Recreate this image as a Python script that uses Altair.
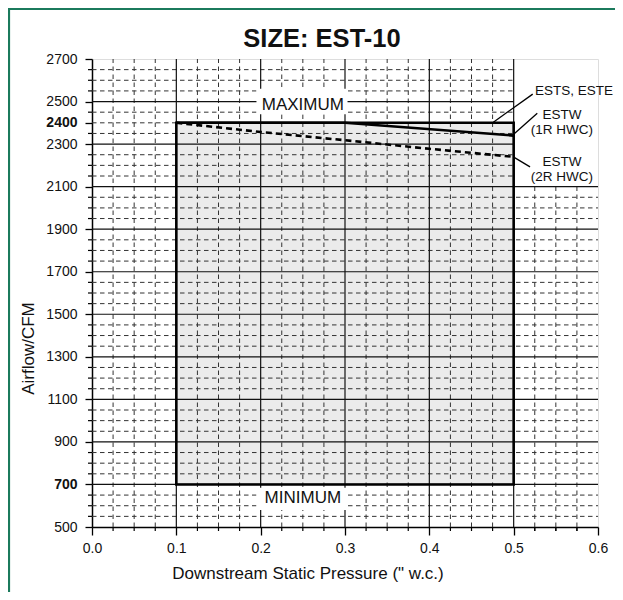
import altair as alt
import pandas as pd
import numpy as np

FONT = "Liberation Sans"

title_text = "SIZE: EST-10"
x_title = 'Downstream Static Pressure (" w.c.)'
y_title = "Airflow/CFM"

x_ticks = [0.0, 0.1, 0.2, 0.3, 0.4, 0.5, 0.6]
y_ticks = [500, 700, 900, 1100, 1300, 1500, 1700, 1900, 2100, 2300, 2400, 2500, 2700]
bold_ticks = [700, 2400]

# operating envelope
env_x = [0.1, 0.5]
env_y = [700, 2400]

# curves
estw1_x = [0.1, 0.3, 0.5]
estw1_y = [2400, 2400, 2340]
estw2_x = [0.1, 0.2, 0.3, 0.4, 0.5]
estw2_y = [2400, 2357, 2318, 2278, 2240]

# labels
limit_text = ["MAXIMUM", "MINIMUM"]
limit_x = [0.25, 0.25]
limit_y = [2483, 634]
limit_box_y = [2440, 580]
limit_box_y2 = [2560, 685]
limit_box_x = [0.195, 0.195]
limit_box_x2 = [0.303, 0.303]

series_text = ["ESTS, ESTE", "ESTW", "(1R HWC)", "ESTW", "(2R HWC)"]
series_tx = [0.5715, 0.5573, 0.5573, 0.5573, 0.5573]
series_ty = [2548, 2438, 2368, 2216, 2146]

lead_x = [0.4759, 0.4977, 0.4996]
lead_y = [2403, 2338, 2240]
lead_x2 = [0.5226, 0.528, 0.5194]
lead_y2 = [2535, 2445, 2193]

W, H = 506, 468
XD = [0.0, 0.6]
YD = [500, 2700]


def X(field, axis=True):
    if axis:
        ax = alt.Axis(
            values=x_ticks, format=".1f", grid=False, tickSize=8, labelPadding=6,
            labelFlush=False,
            labelFontSize=14, labelFont=FONT, labelColor="#111",
            title=x_title, titleFontSize=17, titleFont=FONT, titleFontWeight="normal",
            titleColor="#111", titleX=215.5, titleY=51.5, titleBaseline="alphabetic",
            domainColor="black", domainWidth=1.5, tickColor="black", tickWidth=1.3,
        )
    else:
        ax = None
    return alt.X(field, type="quantitative", scale=alt.Scale(domain=XD, nice=False, zero=False), axis=ax)


def Y(field, axis=True):
    if axis:
        ax = alt.Axis(
            values=y_ticks, format="d", grid=False, tickSize=7, labelPadding=8,
            labelFlush=False,
            labelFontSize=14, labelFont=FONT, labelColor="#111",
            labelFontWeight={"condition": {"test": "datum.value == 700 || datum.value == 2400", "value": "bold"}, "value": "normal"},
            title=y_title, titleFontSize=17, titleFont=FONT, titleFontWeight="normal",
            titleColor="#111", titleAngle=270, titleX=-59, titleY=289, titleBaseline="alphabetic",
            domainColor="black", domainWidth=1.5, tickColor="black", tickWidth=1.3,
        )
    else:
        ax = None
    return alt.Y(field, type="quantitative", scale=alt.Scale(domain=YD, nice=False, zero=False), axis=ax)


# grid line tables
vmaj = pd.DataFrame({"x": [0.1, 0.2, 0.3, 0.4, 0.5], "y": 500, "y2": 2700})
vmin_x = [round(k * 0.025, 3) for k in range(1, 24) if k % 4 != 0]
vmin = pd.DataFrame({"x": vmin_x, "y": 500, "y2": [2700 if v < 0.5 else 2100 for v in vmin_x]})
hmaj_y = list(range(700, 2501, 200))
hmaj = pd.DataFrame({"y": hmaj_y, "x": 0.0, "x2": [0.6 if v <= 2100 else 0.5 for v in hmaj_y]})
hmin_y = [v for v in range(550, 2700, 50) if (v - 500) % 200 != 0]
hmin = pd.DataFrame({"y": hmin_y, "x": 0.0, "x2": [0.6 if v < 2100 else 0.5 for v in hmin_y]})
ymin_ticks = pd.DataFrame({"y": [v for v in range(550, 2700, 50) if v not in y_ticks]})
xmin_ticks = pd.DataFrame({"x": vmin_x + [0.525, 0.55, 0.575]})

env = pd.DataFrame({"x": [env_x[0]], "x2": [env_x[1]], "y": [env_y[0]], "y2": [env_y[1]]})

fill = alt.Chart(env).mark_rect(fill="#ebebeb", stroke=None).encode(
    x=X("x"), x2="x2", y=Y("y"), y2="y2")

dash = [4.5, 3.5]
g_vmin = alt.Chart(vmin).mark_rule(color="#333", strokeWidth=1, strokeDash=dash).encode(
    x=X("x"), y=Y("y"), y2="y2")
g_hmin = alt.Chart(hmin).mark_rule(color="#333", strokeWidth=1, strokeDash=dash).encode(
    y=Y("y"), x=X("x"), x2="x2")
g_vmaj = alt.Chart(vmaj).mark_rule(color="#111", strokeWidth=1.2).encode(
    x=X("x"), y=Y("y"), y2="y2")
g_hmaj = alt.Chart(hmaj).mark_rule(color="#111", strokeWidth=1.2).encode(
    y=Y("y"), x=X("x"), x2="x2")

t_y = alt.Chart(ymin_ticks).mark_rule(color="black", strokeWidth=1.2).encode(
    y=Y("y"), x=alt.value(-4), x2=alt.value(0))
t_x = alt.Chart(xmin_ticks).mark_rule(color="black", strokeWidth=1.2).encode(
    x=X("x"), y=alt.value(H), y2=alt.value(H + 4))

boxes = alt.Chart(pd.DataFrame({"x": limit_box_x, "x2": limit_box_x2, "y": limit_box_y, "y2": limit_box_y2})).mark_rect(
    fill="white", stroke=None).encode(x=X("x"), x2="x2", y=Y("y"), y2="y2")

limits = alt.Chart(pd.DataFrame({"t": limit_text, "x": limit_x, "y": limit_y})).mark_text(
    font=FONT, fontSize=17, color="#111", baseline="middle", align="center").encode(
    x=X("x"), y=Y("y"), text="t")

border = alt.Chart(env).mark_rect(fill=None, stroke="black", strokeWidth=2.6).encode(
    x=X("x"), x2="x2", y=Y("y"), y2="y2")

l1 = alt.Chart(pd.DataFrame({"x": estw1_x, "y": estw1_y})).mark_line(
    color="black", strokeWidth=2.6).encode(x=X("x"), y=Y("y"))
l2 = alt.Chart(pd.DataFrame({"x": estw2_x, "y": estw2_y})).mark_line(
    color="black", strokeWidth=2.6, strokeDash=[6, 4]).encode(x=X("x"), y=Y("y"))

leads = alt.Chart(pd.DataFrame({"x": lead_x, "y": lead_y, "x2": lead_x2, "y2": lead_y2})).mark_rule(
    color="black", strokeWidth=1.3).encode(x=X("x"), y=Y("y"), x2="x2", y2="y2")

stext = alt.Chart(pd.DataFrame({"t": series_text, "x": series_tx, "y": series_ty})).mark_text(
    font=FONT, fontSize=13.5, color="#111", baseline="middle", align="center").encode(
    x=X("x"), y=Y("y"), text="t")

title = alt.Chart(pd.DataFrame({"t": [title_text]})).mark_text(
    font=FONT, fontSize=25.5, fontWeight="bold", color="#111", baseline="alphabetic", align="center").encode(
    x=alt.value(230), y=alt.value(-12.3), text="t")

frame = alt.Chart(pd.DataFrame({"a": [0]})).mark_rect(
    fill=None, stroke="#1b7a5c", strokeWidth=2.2).encode(
    x=alt.value(-83), x2=alt.value(600), y=alt.value(-50), y2=alt.value(620))

chart = alt.layer(
    fill, g_vmin, g_hmin, g_vmaj, g_hmaj, t_y, t_x, boxes, limits, border, l1, l2, leads, stext, title, frame
).properties(
    width=W, height=H,
    padding={"left": 84, "top": 51, "right": 17, "bottom": 65},
    autosize=alt.AutoSizeParams(type="none"),
).configure_view(stroke=None).configure(background="white")

chart.save("out.html", embed_options={"renderer": "svg", "actions": False})
